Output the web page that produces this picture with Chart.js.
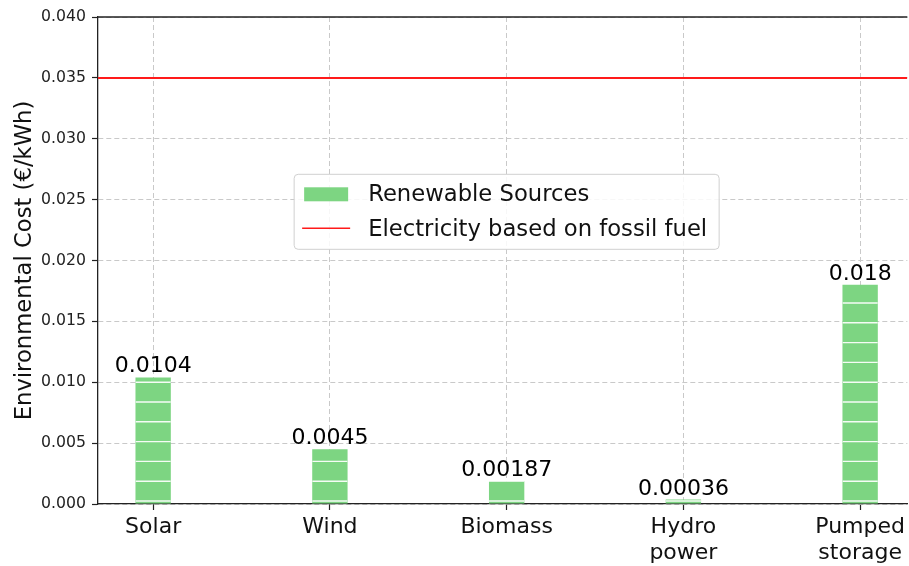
<!DOCTYPE html>
<html><head><meta charset="utf-8">
<script src="https://cdn.jsdelivr.net/npm/chart.js@4.4.1/dist/chart.umd.min.js"></script>
<style>html,body{margin:0;padding:0;background:#fff;overflow:hidden}#wrap{width:909px;height:566px;position:relative}</style>
</head><body><div id="wrap"><canvas id="c" width="909" height="566"></canvas></div>
<script>
// ---- data ----
const categories = ['Solar', 'Wind', 'Biomass', ['Hydro', 'power'], ['Pumped', 'storage']];
const costs = [0.0104, 0.0045, 0.00187, 0.00036, 0.018];
const costLabels = ['0.0104', '0.0045', '0.00187', '0.00036', '0.018'];
const fossilCost = 0.035;
const yTickValues = [0, 0.005, 0.010, 0.015, 0.020, 0.025, 0.030, 0.035, 0.040];
const seriesNames = ['Renewable Sources', 'Electricity based on fossil fuel'];
const xRange = [-0.312, 4.267];
const yRange = [0, 0.040];

// ---- style ----
const FONT = 'DejaVu Sans';
const GREEN = '#7dd582';
const RED = '#ff1a1a';
const GRID = '#c9c9c9';
const AXIS = '#222222';

const hatchPlugin = {
  id: 'hatch',
  afterDatasetsDraw(chart) {
    const meta = chart.getDatasetMeta(0);
    const ctx = chart.ctx;
    const base = chart.scales.y.getPixelForValue(0);
    meta.data.forEach(bar => {
      const p = bar.getProps(['x', 'y', 'width'], true);
      const l = p.x - p.width / 2;
      ctx.save();
      ctx.beginPath();
      ctx.rect(l, p.y, p.width, base - p.y);
      ctx.clip();
      ctx.beginPath();
      ctx.strokeStyle = 'rgba(255,255,255,0.92)';
      ctx.lineWidth = 1.4;
      for (let yy = base - 3; yy > p.y - 2; yy -= 19.8) {
        ctx.moveTo(l, yy);
        ctx.lineTo(l + p.width, yy);
      }
      ctx.stroke();
      ctx.restore();
    });
  }
};

const decorPlugin = {
  id: 'decor',
  afterDraw(chart) {
    const ctx = chart.ctx;
    const ca = chart.chartArea;
    const xs = chart.scales.x, ys = chart.scales.y;
    ctx.save();
    // top spine
    ctx.strokeStyle = AXIS;
    ctx.lineWidth = 1.3;
    ctx.beginPath();
    ctx.moveTo(ca.left, ca.top);
    ctx.lineTo(ca.right, ca.top);
    ctx.stroke();

    // value labels
    ctx.font = '22px "' + FONT + '"';
    ctx.fillStyle = '#000';
    ctx.textAlign = 'center';
    ctx.textBaseline = 'alphabetic';
    chart.getDatasetMeta(0).data.forEach((bar, i) => {
      const p = bar.getProps(['x', 'y'], true);
      ctx.fillText(costLabels[i], p.x, p.y - 5);
    });

    // legend
    const cx = xs.getPixelForValue(2), cy = ys.getPixelForValue(0.024);
    const w = 425, h = 75;
    const L = cx - w / 2, T = cy - h / 2;
    ctx.beginPath();
    if (ctx.roundRect) ctx.roundRect(L, T, w, h, 4); else ctx.rect(L, T, w, h);
    ctx.fillStyle = 'rgba(255,255,255,0.85)';
    ctx.fill();
    ctx.strokeStyle = '#d0d0d0';
    ctx.lineWidth = 1;
    ctx.stroke();
    ctx.fillStyle = GREEN;
    ctx.fillRect(L + 10, T + 13, 44, 14);
    ctx.strokeStyle = RED;
    ctx.lineWidth = 1.6;
    ctx.beginPath();
    ctx.moveTo(L + 8, T + 54);
    ctx.lineTo(L + 56, T + 54);
    ctx.stroke();
    ctx.font = '22.7px "' + FONT + '"';
    ctx.fillStyle = '#111';
    ctx.textAlign = 'left';
    ctx.fillText(seriesNames[0], L + 74, T + 27);
    ctx.fillText(seriesNames[1], L + 74, T + 62);
    ctx.restore();
  }
};

new Chart(document.getElementById('c'), {
  type: 'bar',
  data: {
    datasets: [
      {
        label: seriesNames[0],
        data: costs.map((v, i) => ({ x: i, y: v })),
        backgroundColor: GREEN,
        borderWidth: 0,
        barPercentage: 0.2,
        categoryPercentage: 1.0,
        order: 2
      },
      {
        type: 'line',
        label: seriesNames[1],
        data: xRange.map(x => ({ x: x, y: fossilCost })),
        borderColor: RED,
        borderWidth: 2,
        pointRadius: 0,
        fill: false,
        order: 1
      }
    ]
  },
  options: {
    responsive: false,
    animation: false,
    devicePixelRatio: 1,
    layout: { padding: { left: 0, top: 17, right: 0, bottom: 0 } },
    plugins: { legend: { display: false }, tooltip: { enabled: false } },
    scales: {
      x: {
        type: 'linear',
        min: xRange[0],
        max: xRange[1],
        offset: false,
        z: 1,
        afterBuildTicks(scale) { scale.ticks = categories.map((_, i) => ({ value: i })); },
        afterFit(scale) { scale.height = 62; },
        grid: {
          offset: false,
          color: GRID,
          lineWidth: 1,
          tickLength: 6,
          tickColor: AXIS,
          tickBorderDash: [],
          tickWidth: 1.2
        },
        border: { display: true, color: AXIS, width: 1.3, dash: [5, 3] },
        ticks: {
          autoSkip: false,
          maxRotation: 0,
          padding: 4,
          color: '#111',
          font: { family: FONT, size: 22, lineHeight: 1.2 },
          callback: (v) => categories[Math.round(v)]
        }
      },
      y: {
        type: 'linear',
        min: yRange[0],
        max: yRange[1],
        z: 1,
        afterBuildTicks(scale) { scale.ticks = yTickValues.map(v => ({ value: v })); },
        afterFit(scale) { scale.width = 98; },
        grid: {
          color: GRID,
          lineWidth: 1,
          tickLength: 6,
          tickColor: AXIS,
          tickBorderDash: [],
          tickWidth: 1.2
        },
        border: { display: true, color: AXIS, width: 1.3, dash: [5, 3] },
        ticks: {
          padding: 6,
          color: '#222',
          font: { family: FONT, size: 15.7 },
          callback: (v) => Number(v).toFixed(3)
        },
        title: {
          display: true,
          text: 'Environmental Cost (€/kWh)',
          color: '#111',
          font: { family: FONT, size: 22.7, lineHeight: 1.2 },
          padding: { top: 11, bottom: 0 }
        }
      }
    }
  },
  plugins: [hatchPlugin, decorPlugin]
});
</script>
</body></html>
